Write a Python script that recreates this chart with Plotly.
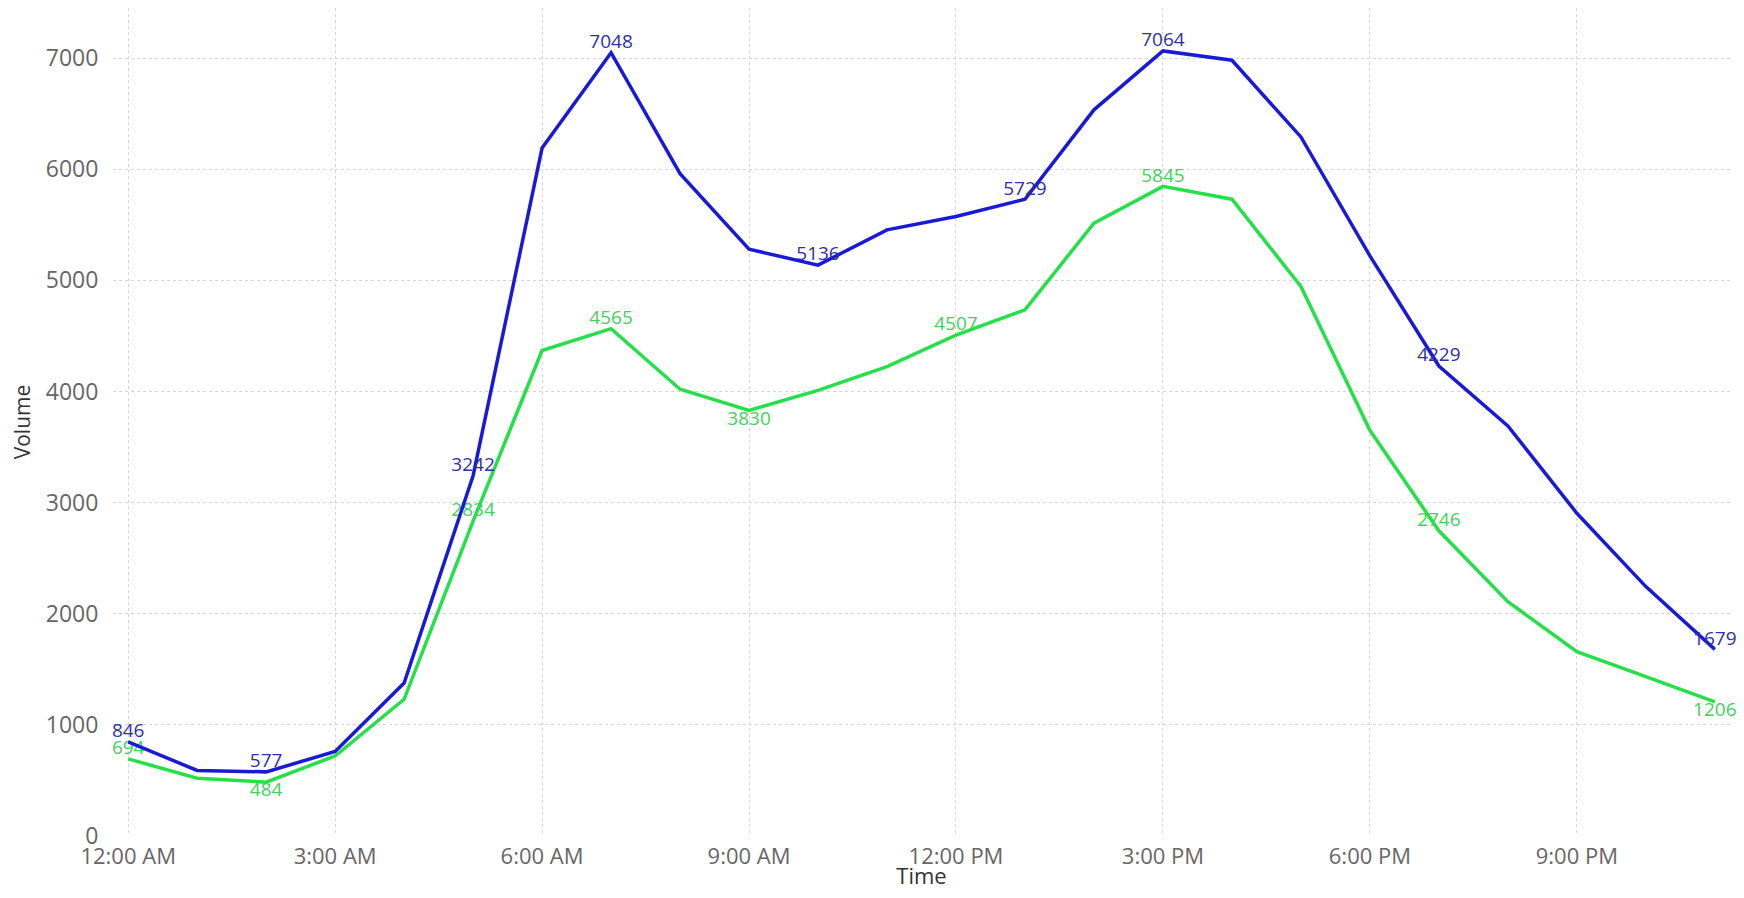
import plotly.graph_objects as go

# ---- data ----
hours = list(range(24))
tick_hours = [0, 3, 6, 9, 12, 15, 18, 21]
tick_labels = ["12:00 AM", "3:00 AM", "6:00 AM", "9:00 AM",
               "12:00 PM", "3:00 PM", "6:00 PM", "9:00 PM"]

blue_values = [846, 590, 577, 760, 1377, 3242, 6190, 7048, 5960, 5280, 5136, 5454,
               5574, 5729, 6534, 7064, 6980, 6290, 5220, 4229, 3690, 2904, 2244, 1679]
green_values = [694, 520, 484, 720, 1230, 2834, 4368, 4565, 4020, 3830, 4010, 4224,
                4507, 4734, 5514, 5845, 5730, 4944, 3650, 2746, 2109, 1659, 1434, 1206]

blue_label_idx = [0, 2, 5, 7, 10, 13, 15, 19, 23]
green_label_idx = [0, 2, 5, 7, 9, 12, 15, 19, 23]
green_below_idx = [2, 9, 23]

y_ticks = [0, 1000, 2000, 3000, 4000, 5000, 6000, 7000]

# ---- styling ----
BLUE = "#1a1ad6"
GREEN = "#26e049"
BLUE_TXT = "#2f2fa6"
GREEN_TXT = "#45cf5f"
FONT = "Segoe UI, Open Sans, sans-serif"

blue_text = [str(v) if i in blue_label_idx else "" for i, v in enumerate(blue_values)]
green_text = [str(v) if i in green_label_idx else "" for i, v in enumerate(green_values)]
green_pos = ["bottom center" if i in green_below_idx else "top center" for i in hours]

fig = go.Figure()
fig.add_trace(go.Scatter(
    x=hours, y=green_values, mode="lines+text", text=green_text,
    textposition=green_pos, textfont=dict(color=GREEN_TXT, size=19, family=FONT),
    line=dict(color=GREEN, width=3.5), cliponaxis=False, showlegend=False,
))
fig.add_trace(go.Scatter(
    x=hours, y=blue_values, mode="lines+text", text=blue_text,
    textposition="top center", textfont=dict(color=BLUE_TXT, size=19, family=FONT),
    line=dict(color=BLUE, width=3.5), cliponaxis=False, showlegend=False,
))

# page body has an 8px default margin, so the figure is sized to fit inside it
fig.update_layout(
    width=1728, height=882,
    margin=dict(l=105, r=6, t=0, b=54),
    plot_bgcolor="white", paper_bgcolor="white",
    font=dict(family=FONT, color="#666666"),
    xaxis=dict(
        range=[-0.22, 23.22], automargin=False,
        tickvals=tick_hours, ticktext=tick_labels,
        tickfont=dict(size=22, color="#666666"),
        showgrid=True, gridcolor="#d4d4d4", griddash="dot", gridwidth=1,
        zeroline=False, showline=False,
        ticks="outside", ticklen=1, tickcolor="rgba(0,0,0,0)",
        title=dict(text="Time", font=dict(size=22, color="#333333"), standoff=11),
    ),
    yaxis=dict(
        range=[0, 7450], automargin=False,
        tickvals=y_ticks,
        tickfont=dict(size=23, color="#666666"),
        showgrid=True, gridcolor="#d4d4d4", griddash="dot", gridwidth=1,
        zeroline=False, showline=False,
        ticks="outside", ticklen=9, tickcolor="rgba(0,0,0,0)",
        title=dict(text="Volume", font=dict(size=21, color="#333333"), standoff=26),
    ),
)

fig.write_html("out.html")
